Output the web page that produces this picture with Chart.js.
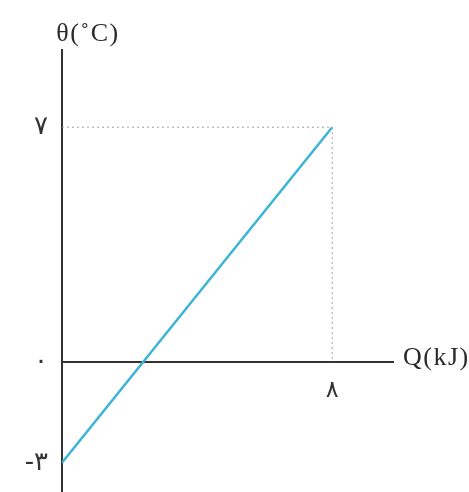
<!DOCTYPE html>
<html>
<head>
<meta charset="utf-8">
<script src="https://cdn.jsdelivr.net/npm/chart.js@4"></script>
<style>
html,body{margin:0;padding:0;background:#fff;}
canvas{display:block;}
</style>
</head>
<body>
<canvas id="c" width="469" height="492"></canvas>
<script>
// Data
const qValues = [0, 8];          // Q (kJ)
const thetaValues = [-3, 7];     // θ (°C)
const guideQ = [0, 8, 8];
const guideTheta = [7, 7, 0];
const xTickValues = [8];
const xTickLabels = ['۸'];
const yTickValues = [-3, 0, 7];
const yTickLabels = ['-۳', '۰', '۷'];
const xTitle = 'Q(kJ)';
const yTitle = 'θ(˚C)';

const lineData = qValues.map((q, i) => ({x: q, y: thetaValues[i]}));
const guideData = guideQ.map((q, i) => ({x: q, y: guideTheta[i]}));

const axisTitles = {
  id: 'axisTitles',
  afterDraw(chart) {
    const {ctx, scales: {x, y}} = chart;
    ctx.save();
    ctx.fillStyle = '#2a2a2a';
    ctx.font = '26px "Liberation Serif", serif';
    try { ctx.letterSpacing = '1.5px'; } catch (e) {}
    ctx.textBaseline = 'middle';
    ctx.textAlign = 'left';
    ctx.fillText(xTitle, x.right + 10, y.getPixelForValue(0) - 4);
    ctx.textAlign = 'center';
    ctx.fillText(yTitle, x.getPixelForValue(0) + 26, y.top - 16);
    ctx.restore();
  }
};

const noPad = s => { s.paddingTop = 0; s.paddingBottom = 0; s.paddingLeft = 0; s.paddingRight = 0; };

new Chart(document.getElementById('c'), {
  type: 'scatter',
  data: {
    datasets: [
      {
        data: guideData,
        showLine: true,
        borderColor: '#a0a0a0',
        borderWidth: 1,
        borderDash: [2, 3],
        pointRadius: 0,
        fill: false
      },
      {
        data: lineData,
        showLine: true,
        borderColor: '#3db4d6',
        borderWidth: 2.5,
        pointRadius: 0,
        fill: false
      }
    ]
  },
  options: {
    responsive: false,
    animation: false,
    layout: {padding: {left: 0, right: 76, top: 50, bottom: 0}},
    plugins: {legend: {display: false}, tooltip: {enabled: false}},
    scales: {
      x: {
        type: 'linear',
        position: {y: 0},
        min: 0,
        max: 9.8,
        grid: {display: false},
        border: {display: true, color: '#333', width: 2},
        afterFit: s => { s.height = 0; noPad(s); },
        afterBuildTicks: s => { s.ticks = xTickValues.map(v => ({value: v})); },
        ticks: {
          padding: 6,
          color: '#333',
          font: {family: '"DejaVu Sans"', size: 24},
          callback: v => xTickLabels[xTickValues.indexOf(v)] ?? ''
        }
      },
      y: {
        type: 'linear',
        position: 'left',
        min: -3.87,
        max: 9.3,
        grid: {display: false},
        border: {display: true, color: '#333', width: 2},
        afterFit: s => { s.width = 62; noPad(s); },
        afterBuildTicks: s => { s.ticks = yTickValues.map(v => ({value: v})); },
        ticks: {
          padding: 6,
          color: '#333',
          font: {family: '"DejaVu Sans"', size: 26},
          callback: v => yTickLabels[yTickValues.indexOf(v)] ?? ''
        }
      }
    }
  },
  plugins: [axisTitles]
});
</script>
</body>
</html>
